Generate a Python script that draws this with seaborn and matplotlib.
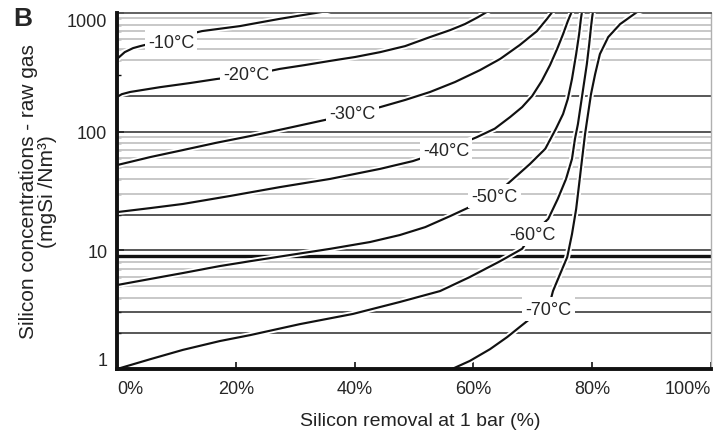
import pandas as pd
import matplotlib
matplotlib.use("Agg")
import matplotlib.pyplot as plt
import matplotlib.patheffects as pe
import seaborn as sns

# curves: silicon removal (%) vs raw gas concentration (mgSi/Nm3)
temps = ["-10°C", "-20°C", "-30°C", "-40°C", "-50°C", "-60°C", "-70°C"]

x_m10 = [0, 1.3, 2.7, 3.9, 8.9, 14.3, 20.7, 27.4, 35.4, 37]
y_m10 = [410, 468, 506, 526, 605, 704, 776, 893, 1038, 1100]

x_m20 = [0, 0.8, 2.2, 7.2, 12.3, 16.8, 22.4, 27.4, 31.6, 35.9, 40.1, 44.3, 48.5,
         52.7, 56.1, 58.6, 60.8, 62.5, 63.3]
y_m20 = [196, 207, 216, 237, 257, 278, 300, 338, 364, 395, 426, 468, 526,
         627, 718, 808, 924, 1038, 1110]

x_m30 = [0, 5.6, 11.1, 16.5, 22.4, 28.3, 34.2, 39.6, 44.3, 48.5, 52.7, 56.9, 61.1,
         64.5, 67.8, 70.7, 72.4, 73.4, 73.9]
y_m30 = [52.3, 61.1, 70, 80.2, 91.8, 106, 123, 141, 161, 185, 216, 262, 330,
         410, 537, 704, 893, 1038, 1160]

x_m40 = [0, 5.6, 11.1, 19, 27.4, 35.9, 44.3, 49.8, 55.4, 60.6, 63.6, 66.2, 68.2,
         69.9, 71.5, 72.9, 74.1, 75.1, 75.9, 76.6, 76.9]
y_m40 = [21, 22.7, 24.6, 28.7, 34.1, 40, 48.6, 56.5, 70, 90, 106, 133, 161,
         200, 267, 364, 498, 664, 855, 1038, 1160]

x_m50 = [0, 5.6, 11.1, 17.3, 22.4, 29.1, 35.9, 42.6, 47.6, 51.9, 56.1, 59.4, 63.6,
         66.7, 69.5, 72.1, 73.9, 75.1, 75.9, 76.6, 77.3, 77.8, 78.1, 78.3, 78.5]
y_m50 = [5.1, 5.74, 6.44, 7.37, 8.1, 9.13, 10.3, 11.75, 13.45, 15.7, 19.45, 23.2, 29.2,
         40, 53.3, 71.7, 106, 141, 189, 278, 451, 664, 893, 1038, 1160]

x_m60 = [0, 5.6, 11.1, 17.3, 22.4, 30.8, 39.7, 47.6, 54.4, 59.4, 64.5, 68.2, 69.9,
         72.6, 74.2, 75.6, 76.6, 77.1, 77.6, 78.1, 78.6, 79.1, 79.5, 79.8, 80, 80.2, 80.3]
y_m60 = [1, 1.21, 1.45, 1.72, 1.93, 2.39, 2.91, 3.67, 4.54, 5.96, 8.1, 10.3, 13.7,
         18.4, 27.1, 40, 59, 87, 116, 171, 252, 371, 547, 761, 924, 1079, 1200]

x_m70 = [56.4, 59.4, 62.8, 65.7, 67.8, 69.5, 72.6, 73.4, 74.6, 75.8, 76.6, 77.3,
         77.8, 78.3, 78.8, 79.3, 79.8, 80.5, 81.3, 82.7, 84.7, 87.5, 89.7]
y_m70 = [1, 1.17, 1.47, 1.86, 2.26, 2.64, 3.2, 4.54, 6.32, 8.78, 13.7, 22.3,
         36.1, 59, 95.5, 141, 207, 306, 451, 627, 806, 1015, 1120]

# where the temperature labels sit
label_x = [9.1, 21.7, 39.6, 55.4, 63.6, 69.9, 72.6]
label_y = [569, 306, 141, 70, 28.7, 13.7, 3.2]

# horizontal reference lines
grid_gray = [4, 5, 6, 7, 8, 30, 40, 50, 60, 70, 80, 90, 400, 500, 600, 700, 800, 900]
grid_black = [2, 3, 10, 20, 100, 200]
grid_thick = [9]

y_ticks = [1, 10, 100, 1000]
x_ticks = [0, 20, 40, 60, 80, 100]
x_tick_labels = ["0%", "20%", "40%", "60%", "80%", "100%"]

xs = [x_m10, x_m20, x_m30, x_m40, x_m50, x_m60, x_m70]
ys = [y_m10, y_m20, y_m30, y_m40, y_m50, y_m60, y_m70]
frames = []
for t, xv, yv in zip(temps, xs, ys):
    frames.append(pd.DataFrame({"temp": t, "removal": xv, "conc": yv}))
df = pd.concat(frames, ignore_index=True)

sns.set_style("white")
plt.rcParams["font.family"] = ["Liberation Sans", "DejaVu Sans"]

fig = plt.figure(figsize=(7.26, 4.35), dpi=100)
ax = fig.add_axes([0.1612, 0.1494, 0.8181, 0.8184])
ax.set_yscale("log")

for v in grid_gray:
    ax.axhline(v, color="#c8c8c8", lw=1.4, zorder=1)
for v in grid_black:
    ax.axhline(v, color="#2a2a2a", lw=1.1, zorder=1)
for v in grid_thick:
    ax.axhline(v, color="#111111", lw=2.4, zorder=1)

sns.lineplot(data=df, x="removal", y="conc", units="temp", estimator=None,
             sort=False, color="#111111", lw=1.55, legend=False, ax=ax, zorder=3,
             path_effects=[pe.Stroke(linewidth=4.2, foreground="white"), pe.Normal()])

for t, lx, ly in zip(temps, label_x, label_y):
    ax.text(lx, ly, t, fontsize=13, ha="center", va="center", zorder=5,
            bbox=dict(boxstyle="square,pad=0.18", fc="white", ec="none"))

ax.set_xlim(0, 100)
ax.set_ylim(1, 1000)

ax.set_xticks(x_ticks)
ax.set_xticklabels(x_tick_labels)
xl = ax.get_xticklabels()
xl[0].set_ha("left")
xl[-1].set_ha("right")
ax.set_yticks(y_ticks)
ax.set_yticklabels([str(v) for v in y_ticks])
yl = ax.get_yticklabels()
yl[0].set_va("bottom")
yl[-1].set_va("top")
ax.yaxis.set_minor_formatter(matplotlib.ticker.NullFormatter())
ax.tick_params(axis="x", which="major", direction="in", length=5, width=1.2,
               labelsize=13, pad=8, bottom=True, top=False, color="#111111")
ax.tick_params(axis="y", which="major", direction="in", length=5, width=1.2,
               labelsize=13, pad=7, left=True, right=False, color="#111111")
ax.tick_params(axis="y", which="minor", direction="in", length=3, width=1.0,
               left=True, right=False, color="#111111")

ax.set_xlabel("")
ax.set_ylabel("")
for side in ["left", "bottom"]:
    ax.spines[side].set_color("#111111")
    ax.spines[side].set_linewidth(2.8)
    ax.spines[side].set_zorder(6)
ax.spines["top"].set_color("#555555")
ax.spines["top"].set_linewidth(1.3)
ax.spines["right"].set_color("#b0b0b0")
ax.spines["right"].set_linewidth(1.0)

fig.text(420 / 726, 1 - 422 / 435, "Silicon removal at 1 bar (%)",
         fontsize=14, ha="center", va="center", color="#222222")
fig.text(38 / 726, 1 - 192 / 435, "Silicon concentrations - raw gas\n(mgSi /Nm³)",
         fontsize=15, ha="center", va="center", rotation=90,
         multialignment="center", linespacing=1.05, color="#222222")
fig.text(13 / 726, 1 - 19 / 435, "B", fontsize=19, fontweight="bold",
         ha="left", va="center")

fig.savefig("out.png", dpi=100)
